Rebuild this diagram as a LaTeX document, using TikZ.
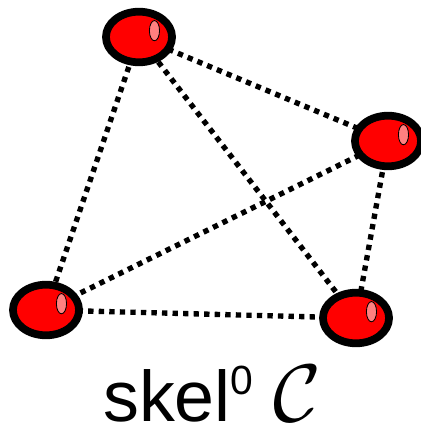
\documentclass[tikz,border=0pt]{standalone}
\usepackage{fontspec}
\usepackage{graphicx}
\setsansfont{Liberation Sans}
\usetikzlibrary{shapes.geometric,calc,backgrounds}
\definecolor{blobred}{RGB}{255,0,0}
\definecolor{shine}{RGB}{255,128,128}
\tikzset{
  blob/.style={ellipse,draw=black,fill=blobred,line width=5.5pt,inner sep=0pt,
    minimum width=47pt,minimum height=36pt,
    path picture={
      \draw[fill=shine,line width=0.6pt]
        ($(path picture bounding box.center)+(11pt,4.5pt)$) ellipse [x radius=3.6pt,y radius=7.2pt];
    }},
  link/.style={line width=3.8pt,dash pattern=on 3.8pt off 3.7pt,black},
  caption/.style={font=\sffamily,inner sep=0pt,anchor=base},
}
\begin{document}
\begin{tikzpicture}[x=0.025cm,y=-0.025cm]
  \useasboundingbox (0,0) rectangle (420,432);
  % vertices
  \node[blob] (a) at (139,37) {};
  \node[blob] (b) at (388,141) {};
  \node[blob] (c) at (46,310) {};
  \node[blob] (d) at (356,318) {};
  % edges
  \begin{scope}[on background layer]
    \foreach \u/\v in {a/b,a/c,a/d,b/c,b/d,c/d}
      \draw[link] (\u.center) -- (\v.center);
  \end{scope}
  \node[caption] (lbl) at (212,421)
    {\raisebox{0pt}[\height][0pt]{{\fontsize{51}{51}\selectfont skel}\raisebox{18.5pt}{\fontsize{29}{29}\selectfont 0}\hspace{14pt}\scalebox{5.8}{$\mathcal{C}$}}};
\end{tikzpicture}
\end{document}
